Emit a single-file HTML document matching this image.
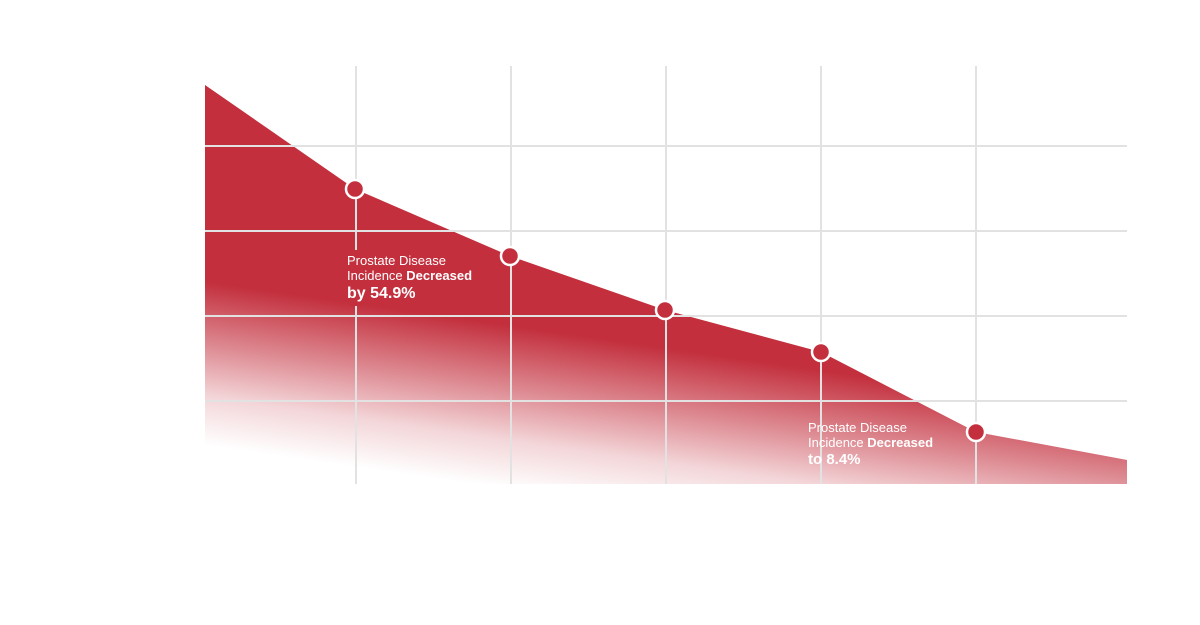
<!DOCTYPE html>
<html><head><style>
html,body{margin:0;padding:0;background:#fff;}
svg{display:block;font-family:"Liberation Sans",sans-serif;}
</style></head><body>
<svg width="1200" height="625" viewBox="0 0 1200 625">
<defs>
<linearGradient id="fade" gradientUnits="userSpaceOnUse" x1="205" y1="445" x2="228" y2="285">
<stop offset="0" stop-color="#fff" stop-opacity="1"/>
<stop offset="0.3" stop-color="#fff" stop-opacity="0.8"/>
<stop offset="0.6" stop-color="#fff" stop-opacity="0.45"/>
<stop offset="1" stop-color="#fff" stop-opacity="0"/>
</linearGradient>
</defs>
<path d="M205,85 L355,189 L510,256 L665,310 L821,352 L976,432 L1127,460 L1127,484 L205,484 Z" fill="#c32f3d"/>
<path d="M205,85 L355,189 L510,256 L665,310 L821,352 L976,432 L1127,460 L1127,484 L205,484 Z" fill="url(#fade)"/>
<g stroke="#e2e2e2" stroke-width="2">
<line x1="356" y1="66" x2="356" y2="484"/>
<line x1="511" y1="66" x2="511" y2="484"/>
<line x1="666" y1="66" x2="666" y2="484"/>
<line x1="821" y1="66" x2="821" y2="484"/>
<line x1="976" y1="66" x2="976" y2="484"/>
<line x1="205" y1="146" x2="1127" y2="146"/>
<line x1="205" y1="231" x2="1127" y2="231"/>
<line x1="205" y1="316" x2="1127" y2="316"/>
<line x1="205" y1="401" x2="1127" y2="401"/>
</g>
<g fill="#c32f3d" stroke="#fff" stroke-width="2.5">
<circle cx="355" cy="189" r="9"/>
<circle cx="510" cy="256" r="9"/>
<circle cx="665" cy="310" r="9"/>
<circle cx="821" cy="352" r="9"/>
<circle cx="976" cy="432" r="9"/>
</g>
<rect x="350" y="250" width="12" height="56" fill="#c32f3d"/>
<g fill="#fff">
<text x="347" y="265" font-size="13">Prostate Disease</text>
<text x="347" y="280" font-size="13">Incidence <tspan font-weight="bold">Decreased</tspan></text>
<text x="347" y="298" font-size="16" font-weight="bold">by 54.9%</text>
<text x="808" y="432" font-size="13">Prostate Disease</text>
<text x="808" y="447" font-size="13">Incidence <tspan font-weight="bold">Decreased</tspan></text>
<text x="808" y="464" font-size="15" font-weight="bold">to 8.4%</text>
</g>
</svg>
</body></html>
